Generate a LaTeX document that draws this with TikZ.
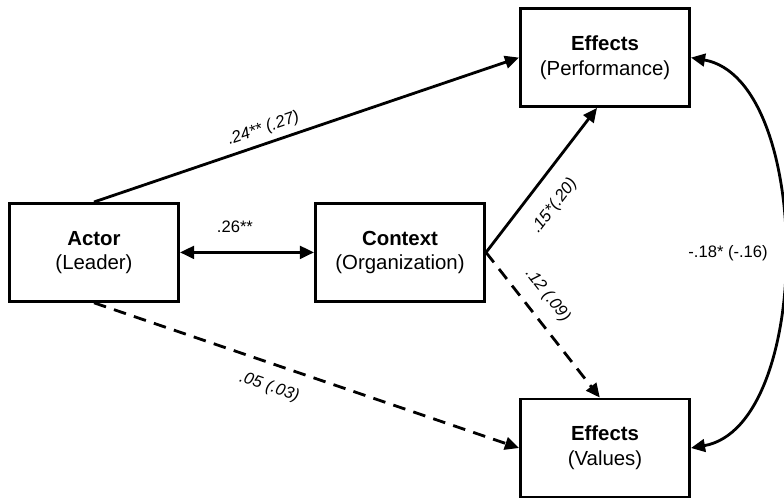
\documentclass[tikz,border=0pt]{standalone}
\usepackage{fontspec}
\setmainfont{Liberation Sans}
\usetikzlibrary{positioning}
\usetikzlibrary{arrows.meta}

\begin{document}
\begin{tikzpicture}[line width = 2pt, >={Triangle[length = 10pt, width = 9pt]},
    box/.style = {draw, rectangle, align = center, minimum width = 4.23cm, minimum height = 2.45cm, font = \fontsize{14.5}{17.5}\selectfont},
    coef/.style = {font = \fontsize{11.8}{13}\selectfont, inner sep = 2pt},
    dashline/.style = {dash pattern = on 9pt off 6pt},]

    \useasboundingbox (0,0) rectangle (19.6,12.55);

    \node (Actor) at (2.35,6.24) [box] {\textbf{Actor}\\(Leader)};
    \node (Context) [box, right = 3.35 of Actor] {\textbf{Context}\\(Organization)};

    \node (EffPerf) at (15.125,11.11) [box] {\textbf{Effects}\\(Performance)};
    \node (EffVal)  at (15.125,1.35)  [box] {\textbf{Effects}\\(Values)};

    % solid paths
    \draw[->] (Actor.north) -- (EffPerf.west) node [coef, sloped, above = 2pt, pos = 0.41] {\itshape .24** (.27)};
    \draw[<->] (Actor) -- (Context) node [coef, pos = 0.41, above = 11pt] {.26**};
    \draw[->] (Context.east) -- ([xshift = -0.2cm]EffPerf.south) node [coef, sloped, below = 10pt, pos = 0.43] {\itshape .15*(.20)};

    % dashed paths
    \draw[->, dashline] (Context.east) -- ([xshift = -0.13cm]EffVal.north) node [coef, sloped, above = 7pt, pos = 0.39] {\itshape .12 (.09)};
    \draw[->, dashline] (Actor.south) -- (EffVal.west) node [coef, sloped, below = 8pt, pos = 0.43] {\itshape .05 (.03)};

    \draw[<->] (EffPerf.east) .. controls +(-10:3.12) and +(10:3.12) .. (EffVal.east) node [coef, pos = 0.5, left = 8pt] {-.18* (-.16)};

\end{tikzpicture}
\end{document}
